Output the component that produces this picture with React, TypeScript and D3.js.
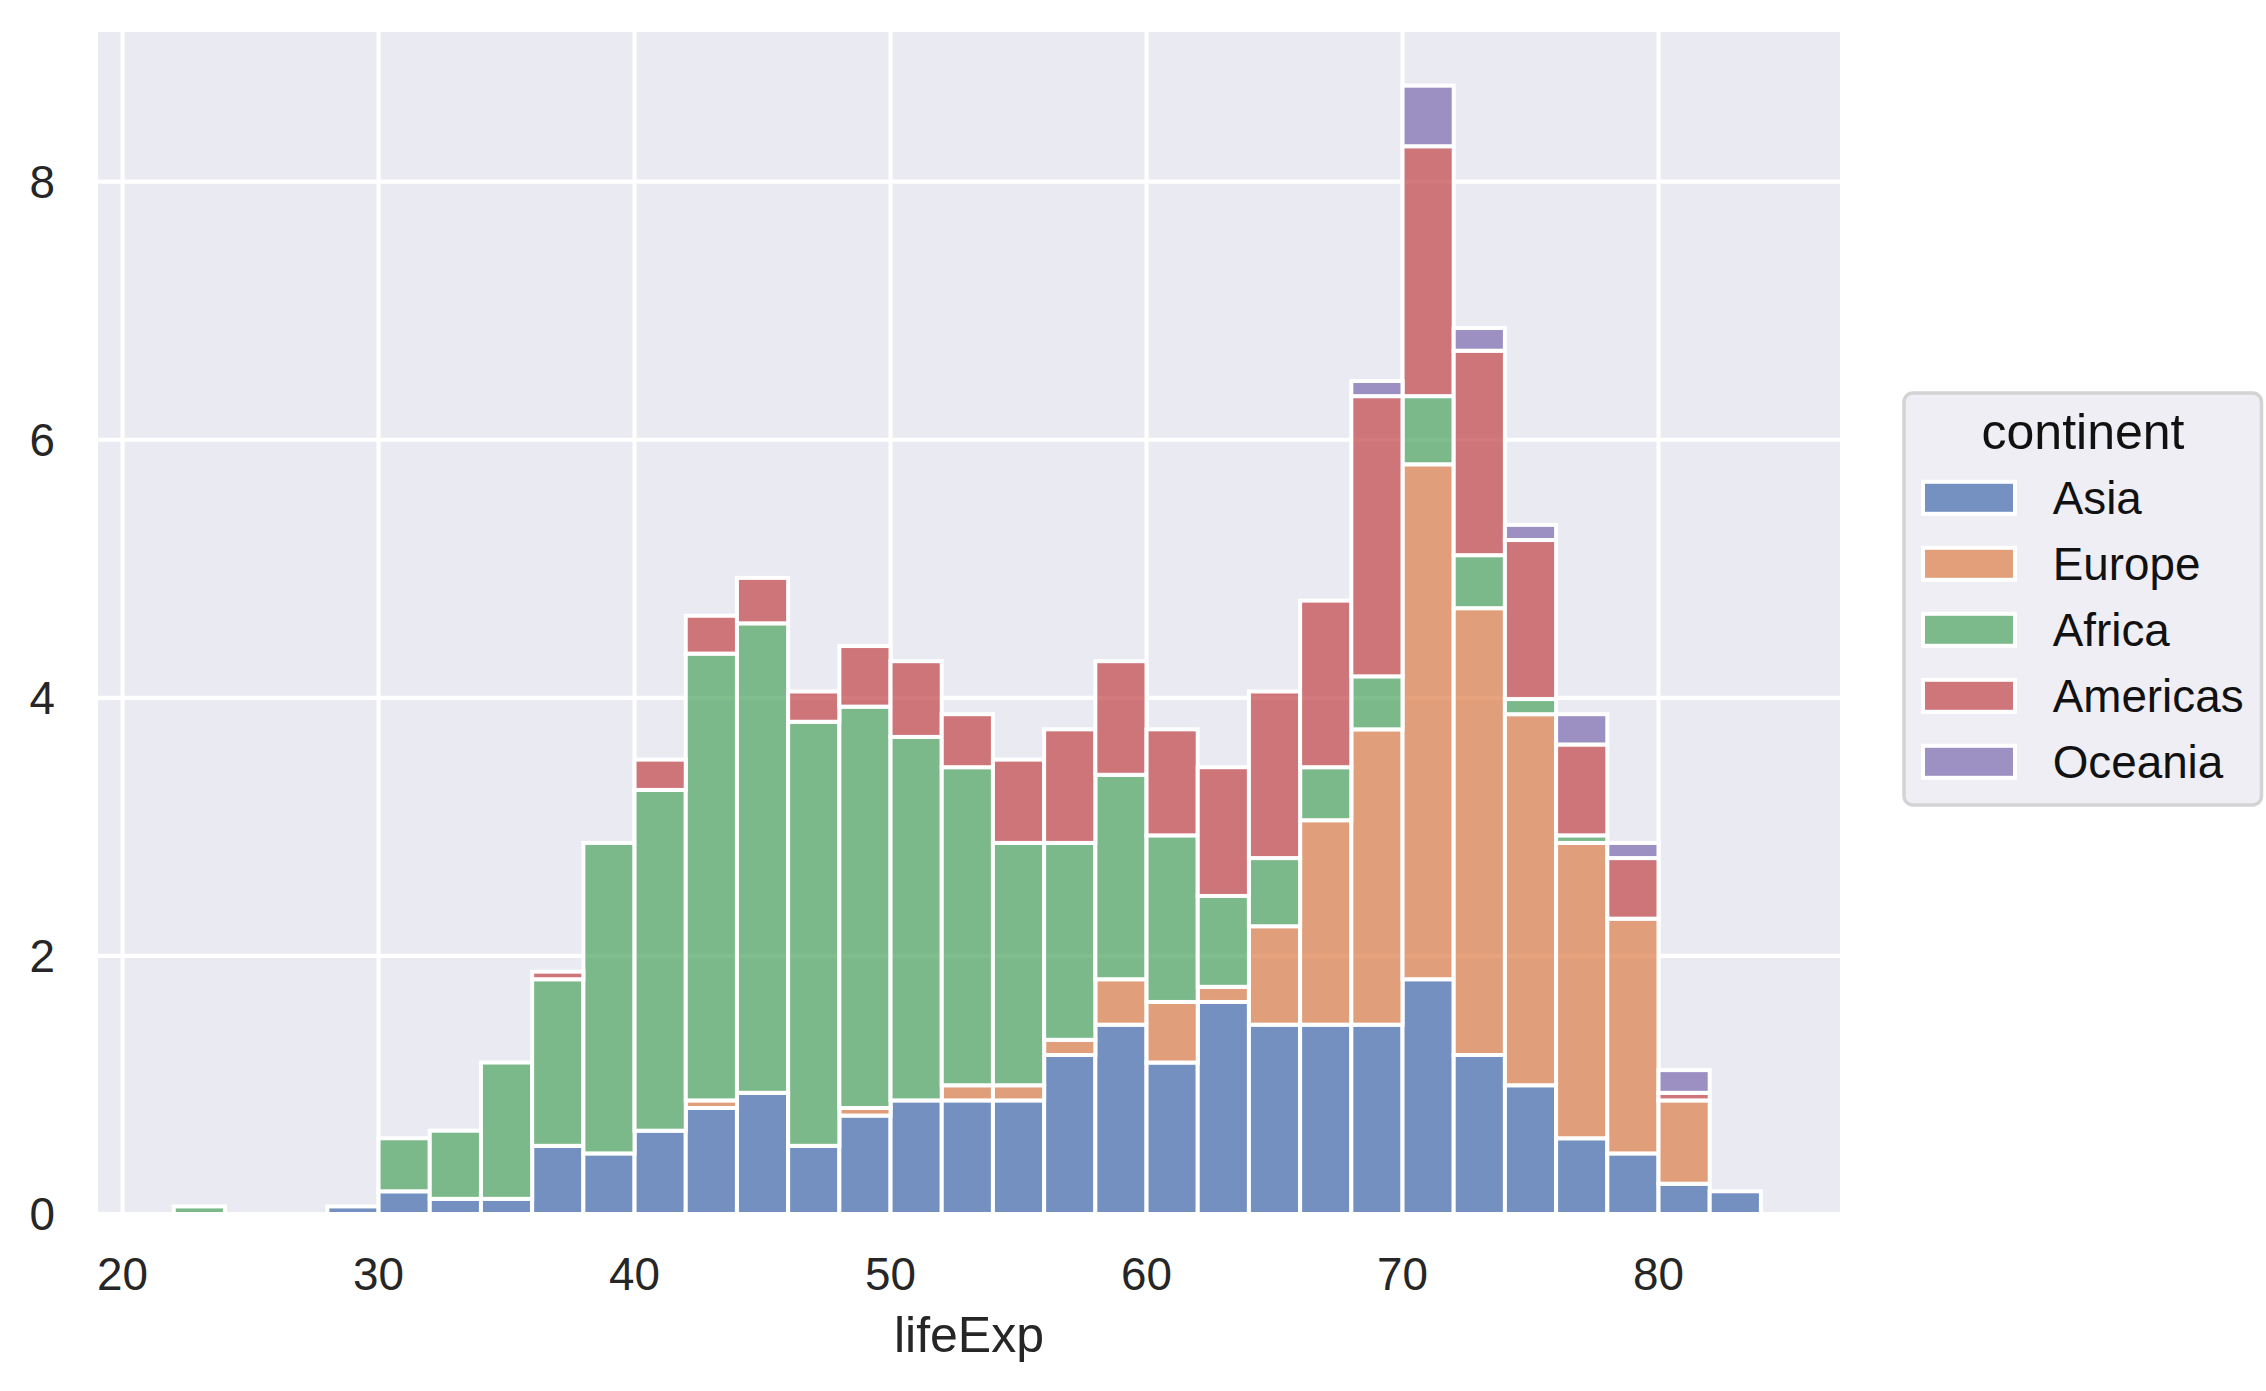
import React from 'react';
import * as d3 from 'd3';

// Bin edges of the histogram (lifeExp)
const binEdges = [22, 24, 26, 28, 30, 32, 34, 36, 38, 40, 42, 44, 46, 48, 50, 52, 54, 56, 58, 60, 62, 64, 66, 68, 70, 72, 74, 76, 78, 80, 82, 84];

// Counts per bin for each continent (stacked in this order, bottom to top)
const continents = ['Asia', 'Europe', 'Africa', 'Americas', 'Oceania'];
const asia = [0, 0, 0, 1, 3, 2, 2, 9, 8, 11, 14, 16, 9, 13, 15, 15, 15, 21, 25, 20, 28, 25, 25, 25, 31, 21, 17, 10, 8, 4, 3];
const europe = [0, 0, 0, 0, 0, 0, 0, 0, 0, 0, 1, 0, 0, 1, 0, 2, 2, 2, 6, 8, 2, 13, 27, 39, 68, 59, 49, 39, 31, 11, 0];
const africa = [1, 0, 0, 0, 7, 9, 18, 22, 41, 45, 59, 62, 56, 53, 48, 42, 32, 26, 27, 22, 12, 9, 7, 7, 9, 7, 2, 1, 0, 0, 0];
const americas = [0, 0, 0, 0, 0, 0, 0, 1, 0, 4, 5, 6, 4, 8, 10, 7, 11, 15, 15, 14, 17, 22, 22, 37, 33, 27, 21, 12, 8, 1, 0];
const oceania = [0, 0, 0, 0, 0, 0, 0, 0, 0, 0, 0, 0, 0, 0, 0, 0, 0, 0, 0, 0, 0, 0, 0, 2, 8, 3, 2, 4, 2, 3, 0];
const seriesCounts = [asia, europe, africa, americas, oceania];
const palette = ['#4C72B0', '#DD8452', '#55A868', '#C44E52', '#8172B3'];

const xTicks = [20, 30, 40, 50, 60, 70, 80];
const yTicks = [0, 2, 4, 6, 8];
const xLabel = 'lifeExp';
const legendTitle = 'continent';

const W = 2266;
const H = 1391;
const L = 98;
const R = 1840;
const T = 32;
const B = 1214;
const FONT = "'Liberation Sans', Arial, Helvetica, sans-serif";
const TEXT = '#262626';

export default function App() {
  const total = d3.sum(seriesCounts.map((s) => d3.sum(s)));
  const rows = binEdges.slice(0, -1).map((e, i) => {
    const row: any = { x0: e, x1: binEdges[i + 1] };
    continents.forEach((c, k) => {
      row[c] = (seriesCounts[k][i] / total) * 100;
    });
    return row;
  });
  const stacked = d3.stack().keys(continents)(rows as any);

  const x = d3.scaleLinear().domain([19.04, 87.09]).range([L, R]);
  const y = d3.scaleLinear().domain([0, 9.16]).range([B, T]);

  const gridW = 4.17;

  return (
    <svg width={W} height={H} style={{ position: 'absolute', left: 0, top: 0, background: '#fff' }}>
      <defs>
        <clipPath id="plotClip">
          <rect x={L} y={T} width={R - L} height={B - T} />
        </clipPath>
      </defs>
      <rect x={L} y={T} width={R - L} height={B - T} fill="#EAEAF2" />
      <g clipPath="url(#plotClip)">
        {xTicks.map((t) => (
          <line key={'gx' + t} x1={x(t)} x2={x(t)} y1={T} y2={B} stroke="#fff" strokeWidth={gridW} />
        ))}
        {yTicks.map((t) => (
          <line key={'gy' + t} x1={L} x2={R} y1={y(t)} y2={y(t)} stroke="#fff" strokeWidth={gridW} />
        ))}
        {stacked.map((layer, k) => (
          <g key={continents[k]}>
            {layer.map((d: any, i: number) => {
              const h = y(d[0]) - y(d[1]);
              if (h <= 0) return null;
              return (
                <rect
                  key={i}
                  x={x(d.data.x0)}
                  y={y(d[1])}
                  width={x(d.data.x1) - x(d.data.x0)}
                  height={h}
                  fill={palette[k]}
                  fillOpacity={0.75}
                  stroke="#fff"
                  strokeWidth={4}
                />
              );
            })}
          </g>
        ))}
      </g>
      {/* y tick labels */}
      {yTicks.map((t) => (
        <text key={'ty' + t} x={55} y={y(t) + 16.4} textAnchor="end" fontFamily={FONT} fontSize={45.8} fill={TEXT}>
          {t}
        </text>
      ))}
      {/* x tick labels */}
      {xTicks.map((t) => (
        <text key={'tx' + t} x={x(t)} y={1289.5} textAnchor="middle" fontFamily={FONT} fontSize={45.8} fill={TEXT}>
          {t}
        </text>
      ))}
      <text x={(L + R) / 2} y={1351.7} textAnchor="middle" fontFamily={FONT} fontSize={50} fill={TEXT}>
        {xLabel}
      </text>
      {/* legend */}
      <g>
        <rect x={1904} y={393} width={357.5} height={412} rx={9} ry={9} fill="#EEEEF4" stroke="#D3D3D3" strokeWidth={3.5} />
        <text x={2083} y={449} textAnchor="middle" fontFamily={FONT} fontSize={50} fill="#111">
          {legendTitle}
        </text>
        {continents.map((c, k) => {
          const cy = 497.8 + k * 66;
          return (
            <g key={'lg' + c}>
              <rect x={1923} y={cy - 16} width={92} height={32} fill={palette[k]} fillOpacity={0.75} stroke="#fff" strokeWidth={4} />
              <text x={2052.7} y={cy + 16.4} fontFamily={FONT} fontSize={45.8} fill="#111">
                {c}
              </text>
            </g>
          );
        })}
      </g>
    </svg>
  );
}
